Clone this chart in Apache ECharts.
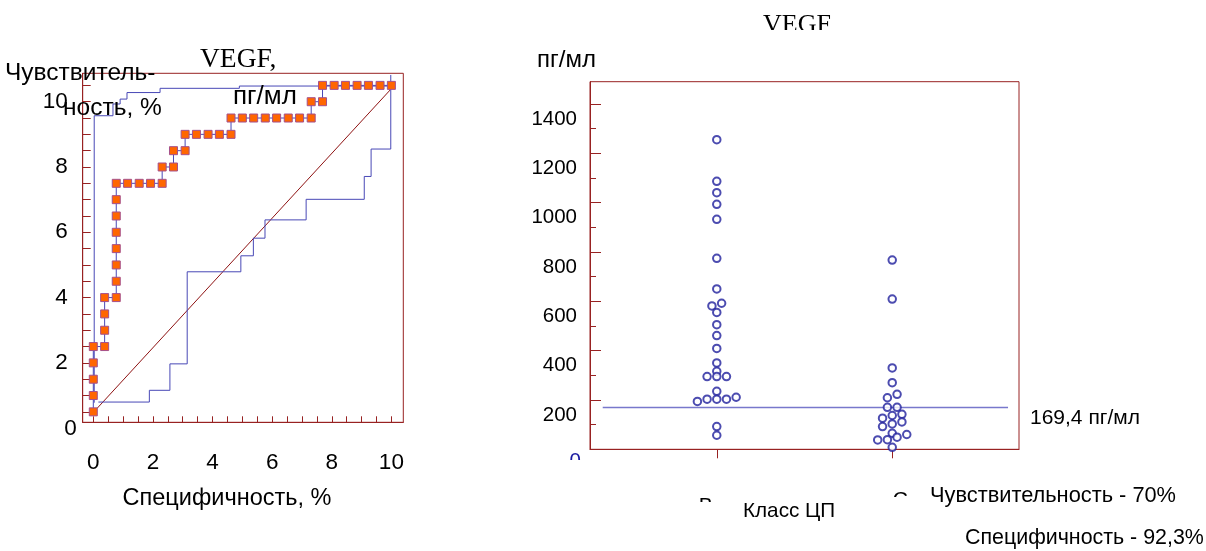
<!DOCTYPE html>
<html><head><meta charset="utf-8">
<script src="https://cdn.jsdelivr.net/npm/echarts@6/dist/echarts.min.js"></script>
<style>html,body{margin:0;padding:0;background:#fff}#c{width:1206px;height:551px}</style>
</head><body><div id="c"></div>
<script>
// ---------- Left panel: ROC curves (x: Специфичность, y: Чувствительность) ----------
const rocOrangeX = [0,0,0,0,0, 0.38,0.38,0.38,0.38, 0.77,0.77,0.77,0.77,0.77,0.77,0.77,0.77,
  1.15,1.54,1.92,2.31, 2.31,2.69, 2.69,3.08, 3.08,3.46,3.85,4.23, 4.62,4.62,
  5.0,5.38,5.77,6.15,6.54,6.92, 7.31,7.31, 7.69,7.69, 8.08,8.46,8.85,9.23,9.62,10.0];
const rocOrangeY = [0.5,1,1.5,2,2.5, 2.5,3,3.5,4, 4,4.5,5,5.5,6,6.5,7,7.5,
  7.5,7.5,7.5,7.5, 8,8, 8.5,8.5, 9,9,9,9, 9,9.5,
  9.5,9.5,9.5,9.5,9.5,9.5, 9.5,10, 10,10.5, 10.5,10.5,10.5,10.5,10.5,10.5];
const rocUpperX = [0.03,0.03,0.66,0.66,0.9,0.9,1.13,1.13,2.24,2.24,4.9,4.9,10.0];
const rocUpperY = [0.78,9.57,9.57,9.93,9.93,10.08,10.08,10.28,10.28,10.41,10.41,10.48,10.48];
const rocLowerX = [0.17,1.88,1.88,2.57,2.57,3.15,3.15,4.95,4.95,5.37,5.37,5.76,5.76,7.14,7.14,9.09,9.09,9.32,9.32,9.98,9.98];
const rocLowerY = [0.80,0.80,1.16,1.16,1.97,1.97,4.79,4.79,5.28,5.28,5.82,5.82,6.38,6.38,7.01,7.01,7.71,7.71,8.55,8.55,10.82];
const diagonalX = [0.12, 10.0];
const diagonalY = [0.6, 10.4];
const leftXTicks = [0,0.5,1,1.5,2,2.5,3,3.5,4,4.5,5,5.5,6,6.5,7,7.5,8,8.5,9,9.5,10];
const leftXLabels = [0,2,4,6,8,10];
const leftYTicks = [0.5,1,1.5,2,2.5,3,3.5,4,4.5,5,5.5,6,6.5,7,7.5,8,8.5,9,9.5,10,10.5];
const leftYLabels = [0,2,4,6,8,10];
const LEFT_X_MIN = -0.356, LEFT_X_MAX = 10.4, LEFT_Y_MIN = 0.18, LEFT_Y_MAX = 10.87;

// ---------- Right panel: VEGF (пг/мл) by class ----------
const classNames = ['В', 'С'];
const classPos = [1, 2];
const vegfB = [1255,1086,1040,993,932,774,650,592,581,555,505,461,409,350,316,295,295,295,235,211,203,203,203,194,92,57];
const slotB = [0,0,0,0,0,0,0,1,-1,0,0,0,0,0,0,-2,0,2,0,4,-2,0,2,-4,0,0];
const vegfC = [767,609,330,270,223,209,170,170,126,137,142,92,103,111,65,49,60,38,39,8];
const slotC = [0,0,0,0,1,-1,-1,1,-2,0,2,-2,0,2,0,1,3,-3,-1,0];
const cutoff = 169.4;
const cutoffSpan = [0.35, 2.66];
const rightYMajor = [0,200,400,600,800,1000,1200,1400];
const rightYMinor = [100,300,500,700,900,1100,1300];
const RIGHT_Y_MIN = 0, RIGHT_Y_MAX = 1490;

// ---------- helpers / styles ----------
const RED = '#982222', BLUE = '#4848b6', DOT = '#1f1f9c';
const FONT = '"Liberation Sans", Arial, sans-serif';
const SERIF = '"Liberation Serif", "Times New Roman", serif';
const SLOT = 0.0276;
const zip = (xs, ys) => xs.map((x, i) => [x, ys[i]]);
const swarm = (vals, slots, pos) => vals.map((v, i) => [pos + slots[i] * SLOT, v]);

const chart = echarts.init(document.getElementById('c'), null, {renderer: 'canvas'});
const txt = (text, x, y, size, align, family) => ({
  type: 'text', x: x, y: y, z: 100,
  style: {text: text, fill: '#000', font: 'normal ' + size + 'px ' + (family || FONT), align: align || 'left', verticalAlign: 'middle'}
});
const mask = (x, y, w, h) => ({type: 'rect', z: 120, shape: {x: x, y: y, width: w, height: h}, style: {fill: '#fff'}});

const option = {
  animation: false,
  backgroundColor: '#fff',
  grid: [
    {left: 82.7, top: 73.3, width: 320.6, height: 349, show: true, borderColor: RED, borderWidth: 1, backgroundColor: 'transparent'},
    {left: 590, top: 81.7, width: 429, height: 367.6, show: true, borderColor: RED, borderWidth: 1, backgroundColor: 'transparent'}
  ],
  xAxis: [
    {gridIndex: 0, type: 'value', min: LEFT_X_MIN, max: LEFT_X_MAX, splitLine: {show: false},
      axisLine: {onZero: false, lineStyle: {color: RED}},
      axisTick: {inside: true, length: 6, customValues: leftXTicks, lineStyle: {color: RED}},
      axisLabel: {customValues: leftXLabels, margin: 29, fontSize: 22.5, color: '#000', fontFamily: FONT}},
    {gridIndex: 1, type: 'value', min: 0.2775, max: 2.7225, splitLine: {show: false},
      axisLine: {onZero: false, lineStyle: {color: RED}},
      axisTick: {inside: false, length: 9, customValues: classPos, lineStyle: {color: RED}},
      axisLabel: {customValues: classPos, margin: 40, color: '#000', fontSize: 20, fontFamily: FONT,
        formatter: v => { const i = classPos.indexOf(v); return '{c' + i + '|' + classNames[i] + '}'; },
        rich: {
          c0: {fontSize: 21, fontFamily: FONT, color: '#000', padding: [6, 22, 0, 0]},
          c1: {fontSize: 21, fontFamily: FONT, color: '#000', padding: [0, 0, 0, 16]}
        }}}
  ],
  yAxis: [
    {gridIndex: 0, type: 'value', min: LEFT_Y_MIN, max: LEFT_Y_MAX, splitLine: {show: false},
      axisLine: {onZero: false, lineStyle: {color: RED}},
      axisTick: {inside: true, length: 8, customValues: leftYTicks, lineStyle: {color: RED}},
      axisLabel: {customValues: leftYLabels.map(v => Math.max(v, LEFT_Y_MIN)), margin: 6,
        formatter: v => v < 1 ? '{z|0}' : '{n|' + v + '}',
        rich: {
          n: {fontSize: 22.5, fontFamily: FONT, color: '#000', padding: [0, 9, 0, 0]},
          z: {fontSize: 22.5, fontFamily: FONT, color: '#000', padding: [12, 0, 0, 0]}
        }}},
    {gridIndex: 1, type: 'value', min: RIGHT_Y_MIN, max: RIGHT_Y_MAX, position: 'left', splitLine: {show: false},
      axisLine: {onZero: false, lineStyle: {color: RED}},
      axisTick: {inside: true, length: 11, customValues: rightYMajor, lineStyle: {color: RED}},
      axisLabel: {customValues: rightYMajor, margin: 9,
        formatter: v => v === 0 ? '{z|0}' : '{n|' + v + '}',
        rich: {
          n: {fontSize: 20.5, fontFamily: FONT, color: '#000', padding: [30, 4, 0, 0]},
          z: {fontSize: 20.5, fontFamily: FONT, color: '#1a1aa0', padding: [25, 0, 0, 0]}
        }}},
    {gridIndex: 1, type: 'value', min: RIGHT_Y_MIN, max: RIGHT_Y_MAX, position: 'left', offset: 0, splitLine: {show: false},
      axisLine: {show: false},
      axisTick: {inside: true, length: 6, customValues: rightYMinor, lineStyle: {color: RED}},
      axisLabel: {show: false}}
  ],
  series: [
    {type: 'line', xAxisIndex: 0, yAxisIndex: 0, data: zip(diagonalX, diagonalY), symbol: 'none',
      lineStyle: {color: '#8e1212', width: 1}, z: 2, silent: true},
    {type: 'line', xAxisIndex: 0, yAxisIndex: 0, data: zip(rocLowerX, rocLowerY), symbol: 'none',
      lineStyle: {color: BLUE, width: 1}, z: 3, silent: true},
    {type: 'line', xAxisIndex: 0, yAxisIndex: 0, data: zip(rocUpperX, rocUpperY), symbol: 'none',
      lineStyle: {color: BLUE, width: 1}, z: 3, silent: true},
    {type: 'line', xAxisIndex: 0, yAxisIndex: 0, data: zip(rocOrangeX, rocOrangeY), symbol: 'rect', symbolSize: 8,
      showSymbol: true, showAllSymbol: true,
      itemStyle: {color: '#ff6600', borderColor: '#a5508c', borderWidth: 1},
      lineStyle: {color: BLUE, width: 1}, z: 5, silent: true},
    {type: 'line', xAxisIndex: 1, yAxisIndex: 1, data: cutoffSpan.map(x => [x, cutoff]), symbol: 'none',
      lineStyle: {color: '#7878cc', width: 1.5}, z: 2, silent: true},
    {type: 'scatter', xAxisIndex: 1, yAxisIndex: 1, data: swarm(vegfB, slotB, classPos[0]),
      symbol: 'emptyCircle', symbolSize: 7.5, itemStyle: {color: DOT, borderWidth: 1.2}, z: 4, silent: true},
    {type: 'scatter', xAxisIndex: 1, yAxisIndex: 1, data: swarm(vegfC, slotC, classPos[1]),
      symbol: 'emptyCircle', symbolSize: 7.5, itemStyle: {color: DOT, borderWidth: 1.2}, z: 4, silent: true}
  ],
  graphic: [
    txt('VEGF,', 200, 60, 27.5, 'left', SERIF),
    txt('пг/мл', 233, 97, 26),
    txt('Чувствитель-', 5, 73, 24.5),
    txt('ность, %', 63, 108, 24.5),
    txt('Специфичность, %', 227, 499, 23.5, 'center'),
    txt('VEGF', 797, 25, 26, 'center', SERIF),
    txt('пг/мл', 537, 60, 24),
    txt('169,4 пг/мл', 1030, 418, 21),
    txt('Класс ЦП', 743, 511, 20.7),
    txt('Чувствительность - 70%', 930, 496, 21.8),
    txt('Специфичность - 92,3%', 965, 538, 21.4),
    mask(745, 30, 110, 16),
    mask(558, 460, 30, 16),
    mask(688, 502, 36, 16),
    mask(884, 497, 30, 16)
  ]
};
chart.setOption(option);
</script>
</body></html>
